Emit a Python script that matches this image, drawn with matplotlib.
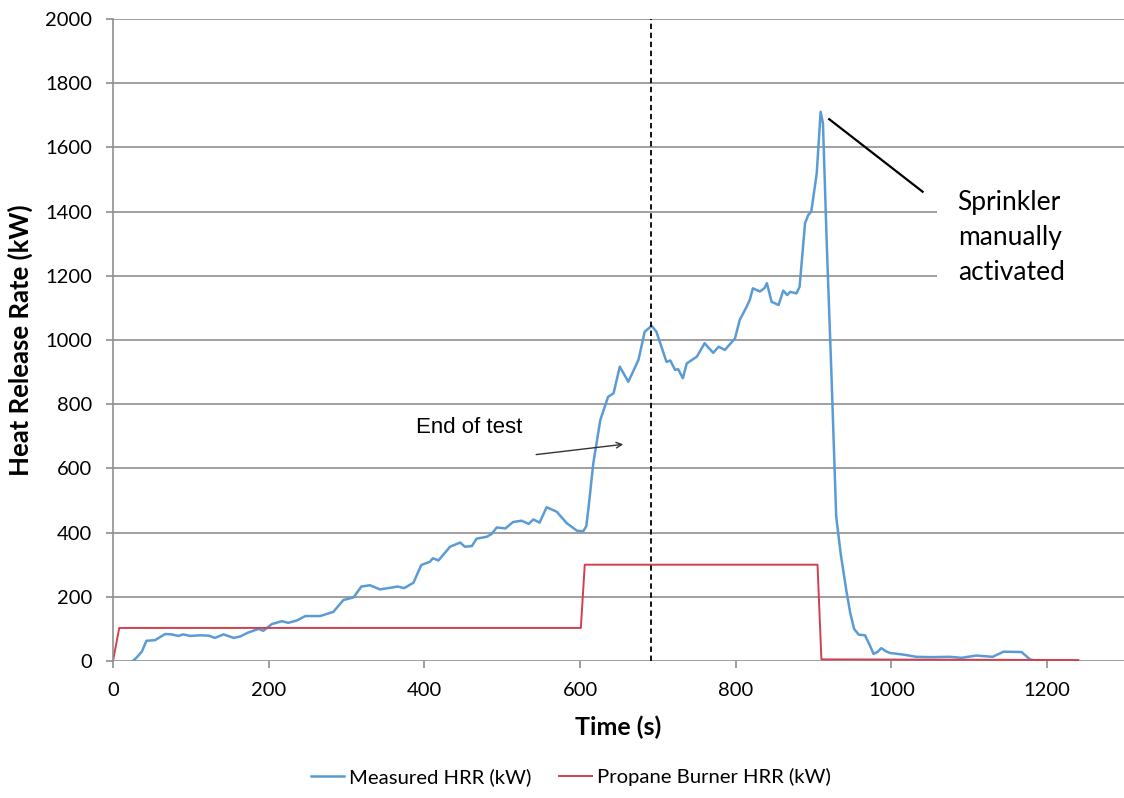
import matplotlib
matplotlib.use('Agg')
import matplotlib.pyplot as plt
from matplotlib.patches import Rectangle

time_measured = [0, 10, 24, 30, 37, 43, 54, 67, 75, 84, 90, 99, 112, 123, 131, 142, 155, 163, 174,
                 187, 193, 204, 217, 225, 236, 247, 266, 283, 296, 309, 319, 330, 343, 366, 374, 386,
                 396, 407, 411, 418, 433, 446, 452, 461, 467, 480, 486, 493, 504, 514, 525, 534, 540,
                 548, 557, 570, 583, 596, 604, 608, 611, 617, 626, 636, 643, 651, 662, 675, 683, 692,
                 698, 711, 716, 722, 726, 732, 737, 750, 760, 771, 778, 786, 799, 805, 814, 818, 822,
                 831, 837, 840, 846, 855, 861, 866, 870, 878, 882, 889, 893, 897, 904, 909, 912, 917,
                 923, 929, 935, 942, 947, 952, 958, 966, 972, 977, 982, 987, 993, 998, 1015, 1032,
                 1050, 1075, 1090, 1109, 1130, 1144, 1167, 1178, 1191, 1203]
hrr_measured = [-3, -5, -3, 10, 29, 63, 65, 84, 83, 78, 83, 78, 80, 79, 72, 83, 72, 76, 89,
                100, 94, 115, 124, 119, 126, 140, 140, 153, 190, 198, 232, 236, 223, 232, 227, 244,
                299, 309, 320, 313, 356, 369, 356, 358, 381, 387, 395, 416, 413, 433, 437, 427, 441,
                431, 479, 465, 429, 406, 404, 420, 481, 616, 751, 823, 834, 917, 870, 938, 1026, 1044,
                1026, 932, 936, 907, 909, 881, 927, 948, 990, 960, 979, 969, 1005, 1062, 1104, 1125, 1161,
                1151, 1162, 1177, 1119, 1109, 1154, 1140, 1150, 1145, 1166, 1364, 1389, 1400, 1519, 1711, 1675, 1291,
                886, 450, 330, 220, 150, 100, 82, 80, 50, 22, 28, 40, 30, 25, 20, 13,
                12, 13, 10, 17, 13, 29, 28, 5, -3, 0]

time_burner = [0, 8, 601, 606, 905, 910, 1240]
hrr_burner = [0, 103, 103, 300, 300, 5, 3]

end_of_test = 691

x_ticks = [0, 200, 400, 600, 800, 1000, 1200]
y_ticks = list(range(0, 2001, 200))

fig = plt.figure(figsize=(11.24, 7.98), dpi=100)
ax = fig.add_axes([113 / 1124, 1 - 661 / 798, 1012 / 1124, 642 / 798])

grid_col = '#8f8f8f'
ax.set_axisbelow(True)
ax.yaxis.grid(True, color=grid_col, linewidth=1.2)

ax.plot(time_measured, hrr_measured, color='#5b9bd5', linewidth=1.8, label='Measured HRR (kW)')
ax.plot(time_burner, hrr_burner, color='#d0404f', linewidth=1.4, label='Propane Burner HRR (kW)')

# Ende des Tests
ax.axvline(end_of_test, color='black', linestyle=(0, (3, 2)), linewidth=1.3)

ax.set_xlim(0, 1300)
ax.set_ylim(0, 2000)
ax.set_xticks(x_ticks)
ax.set_yticks(y_ticks)

for s in ['top', 'right', 'bottom']:
    ax.spines[s].set_visible(False)
ax.spines['left'].set_color(grid_col)
ax.spines['left'].set_linewidth(1.2)
ax.tick_params(axis='both', length=5, width=1.2, color=grid_col, labelsize=14.5, pad=10)
for lbl in ax.get_xticklabels() + ax.get_yticklabels():
    lbl.set_fontfamily('Lato')

ax.set_xlabel('Time (s)', fontfamily='Lato', fontweight='bold', fontsize=18)
ax.set_ylabel('Heat Release Rate (kW)', fontfamily='Lato', fontweight='bold', fontsize=18.5)
ax.xaxis.set_label_coords(0.4995, -0.085)
ax.yaxis.set_label_coords(-0.079, 0.5)

# Beschriftungen
ax.annotate('', xy=(659, 676), xytext=(540, 642),
            arrowprops=dict(arrowstyle='->', color='#333333', lw=1.0))
ax.text(389, 726, 'End of test', fontfamily='Liberation Sans', fontsize=16, va='center')

ax.plot([920, 1040], [1688, 1462], color='black', linewidth=1.6)
# weisser Hintergrund hinter dem Textfeld (verdeckt Gitterlinien bis zum Rand)
ax.add_patch(Rectangle((1058, 1087), 260, 455, facecolor='white', edgecolor='none',
                       zorder=1.5, clip_on=False))
ax.text(1085, 1318, 'Sprinkler\nmanually\nactivated', fontfamily='Lato', fontsize=19,
        va='center', ha='left', linespacing=1.5, zorder=3)

fig.legend(loc='lower center', bbox_to_anchor=(0.508, -0.008), ncol=2, frameon=False,
           prop={'family': 'Lato', 'size': 14.6}, handlelength=1.6, columnspacing=1.4,
           handletextpad=0.25)

plt.savefig('out.png', dpi=100)
